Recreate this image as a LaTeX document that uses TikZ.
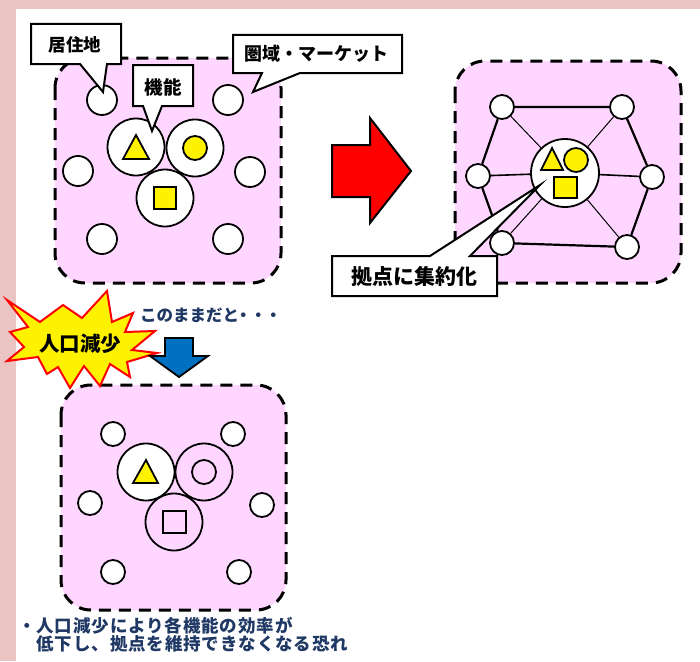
\documentclass[tikz,border=0pt]{standalone}
\usepackage{fontspec}
\newfontfamily\jp{Noto Sans CJK JP}
\definecolor{strip}{RGB}{235,196,196}
\definecolor{zone}{RGB}{255,214,255}
\definecolor{navy}{RGB}{31,56,100}
\definecolor{arrowblue}{RGB}{0,112,192}
\begin{document}
\begin{tikzpicture}[x=1pt,y=-1pt,
  zonebox/.style={draw=black,fill=zone,line width=3pt,dash pattern=on 12pt off 8pt,rounded corners=30pt},
  dot/.style={circle,draw,fill=white,line width=1.8pt,inner sep=0pt,minimum size=30pt},
  smalldot/.style={circle,draw,fill=white,line width=1.8pt,inner sep=0pt,minimum size=24pt},
  bigc/.style={circle,draw,fill=white,line width=1.8pt,inner sep=0pt,minimum size=57pt},
  emptyc/.style={circle,draw,line width=1.8pt,inner sep=0pt,minimum size=57pt},
  yshape/.style={draw,fill=yellow,line width=1.8pt,line join=miter},
  callout/.style={draw,fill=white,line width=2pt,line join=miter},
  lab/.style={inner sep=0pt,font=\jp\bfseries\fontsize{#1}{#1}\selectfont},
  thick edge/.style={line width=2.2pt},
  thin edge/.style={line width=1pt}]
\useasboundingbox (0,0) rectangle (700,661);
\fill[strip] (0,0) rectangle (700,9);
\fill[strip] (0,0) rectangle (16,661);

% ---------- box 1 ----------
\draw[zonebox] (55,58) rectangle (281,283);
\node[dot] (r1) at (102,100) {};
\node[dot] (r2) at (228,100) {};
\node[dot] (r3) at (78,171) {};
\node[dot] (r4) at (250,172) {};
\node[dot] (r5) at (102,239) {};
\node[dot] (r6) at (228,239) {};
\node[bigc] (f1) at (136,147) {};
\node[bigc] (f2) at (195,148) {};
\node[bigc] (f3) at (165,198) {};
\draw[yshape] (123,159) -- (149,159) -- (136,135) -- cycle;
\draw[yshape] (195,148) circle (12);
\draw[yshape] (154,187) rectangle (176,209);

% callouts box 1
\draw[callout] (31,24) -- (121,24) -- (121,64) -- (107,64) -- (103,92) -- (80,64) -- (31,64) -- cycle;
\node[lab=17.5] (t1) at (75,45) {居住地};
\draw[callout] (133,65) -- (193,65) -- (193,106) -- (162,106) -- (152,131) -- (143,106) -- (133,106) -- cycle;
\node[lab=18.5] (t2) at (163,87) {機能};
\draw[callout] (233,35) -- (402,35) -- (402,73) -- (300,73) -- (253,92) -- (262,73) -- (233,73) -- cycle;
\node[lab=18] (t3) at (316,54) {圏域・マーケット};

% red arrow
\draw[fill=red,line width=2pt,line join=miter] (332,145) -- (370,145) -- (370,118) -- (411,171) -- (370,223) -- (370,197) -- (332,197) -- cycle;

% ---------- box 2 ----------
\draw[zonebox] (455,61) rectangle (681,283);
\node[smalldot] (n1) at (502,107) {};
\node[smalldot] (n2) at (622,107) {};
\node[smalldot] (n3) at (652,177) {};
\node[smalldot] (n4) at (627,247) {};
\node[smalldot] (n5) at (502,243) {};
\node[smalldot] (n6) at (478,176) {};
\node[circle,draw,fill=white,line width=1.8pt,inner sep=0pt,minimum size=68pt] (hub) at (565,173) {};
\draw[thick edge] (n1) -- (n2) -- (n3) -- (n4) -- (n5) -- (n6) -- (n1);
\draw[thin edge] (hub) -- (n1);
\draw[thin edge] (hub) -- (n2);
\draw[thin edge] (hub) -- (n4);
\draw[thin edge] (hub) -- (n5);
\draw[line width=1.6pt] (hub) -- (n3);
\draw[line width=1.6pt] (hub) -- (n6);
\draw[yshape] (541,170) -- (563,170) -- (552,148) -- cycle;
\draw[yshape] (576,160) circle (12);
\draw[yshape] (554,177) rectangle (577,198);
\draw[callout] (332,256) -- (430,256) -- (540,185) -- (470,256) -- (497,256) -- (497,296) -- (332,296) -- cycle;
\node[lab=21] (t4) at (414,277) {拠点に集約化};

% ---------- box 3 ----------
\draw[zonebox] (61,385) rectangle (286,610);
\node[smalldot] (s1) at (113,434) {};
\node[smalldot] (s2) at (233,434) {};
\node[smalldot] (s3) at (90,503) {};
\node[smalldot] (s4) at (262,505) {};
\node[smalldot] (s5) at (113,572) {};
\node[smalldot] (s6) at (239,572) {};
\node[bigc] (g1) at (146,472) {};
\node[emptyc] (g2) at (204,472) {};
\node[emptyc] (g3) at (174,522) {};
\draw[yshape] (133,483) -- (158,483) -- (146,460) -- cycle;
\draw[line width=1.8pt] (204,472) circle (12);
\draw[line width=1.8pt] (163,511) rectangle (186,533);

% explosion
\draw[fill=yellow,draw=red,line width=2pt,line join=miter]
  (7,300) -- (40,322) -- (63,305) -- (82,318) -- (107,291) -- (112,322) -- (133,313) -- (125,332)
  -- (155,331) -- (132,350) -- (157,353) -- (127,362) -- (130,377) -- (110,364) -- (100,386)
  -- (84,366) -- (70,388) -- (58,367) -- (47,374) -- (38,357) -- (7,361) -- (24,347)
  -- (10,332) -- (28,327) -- cycle;
\node[lab=20.5] (t5) at (80,344) {人口減少};

% blue arrow
\draw[fill=arrowblue,line width=1.8pt,line join=miter] (165,338) -- (193,338) -- (193,356) -- (208,356) -- (179,377) -- (150,356) -- (165,356) -- cycle;
\node[lab=16.5,text=navy,anchor=west] (t6) at (140,315) {このままだと\kern-4pt・\kern-1.5pt・\kern-1.5pt・};

% bottom text
\node[inner sep=0pt,anchor=north west,align=left,text=navy,
      font=\jp\bfseries\addfontfeature{LetterSpace=5}\fontsize{17.5}{16.5}\selectfont] (t7) at (18,617)
  {・人口減少により各機能の効率が\\　低下し、拠点を維持できなくなる恐れ};
\end{tikzpicture}
\end{document}
